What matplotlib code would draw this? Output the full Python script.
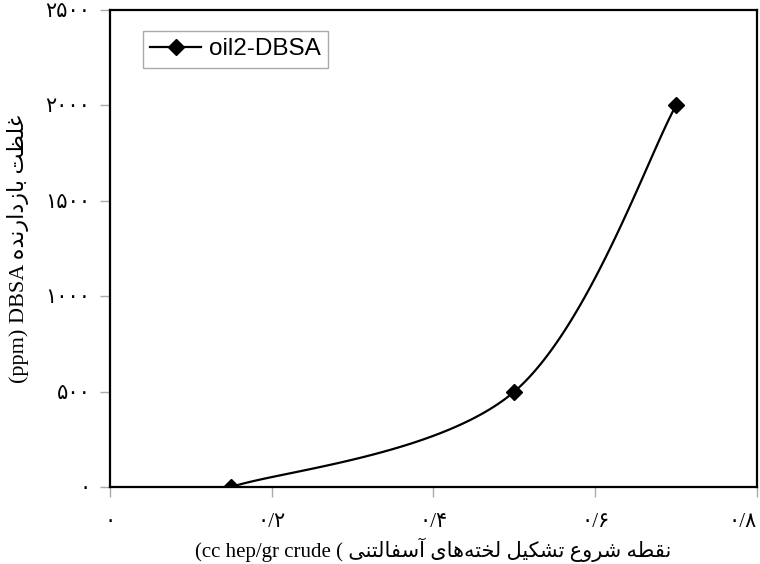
# -*- coding: utf-8 -*-

import numpy as np
import matplotlib
matplotlib.use('Agg')
import matplotlib.pyplot as plt

# Datos
x_vals = [0.15, 0.5, 0.7]      # nucleacion asfaltenos (cc hep/gr crude)
y_vals = [0, 500, 2000]        # concentracion DBSA (ppm)
series_name = 'oil2-DBSA'

x_ticks = [0, 0.2, 0.4, 0.6, 0.8]
y_ticks = [0, 500, 1000, 1500, 2000, 2500]

x_title = 'نقطه شروع تشکیل لخته‌های آسفالتنی'
y_title = 'غلظت بازدارنده'

# formas de presentacion: aislada, final, inicial, media
FORMS = {
    'ا': ('\uFE8D', '\uFE8E'), 'آ': ('\uFE81', '\uFE82'),
    'د': ('\uFEA9', '\uFEAA'), 'ر': ('\uFEAD', '\uFEAE'),
    'ز': ('\uFEAF', '\uFEB0'), 'و': ('\uFEED', '\uFEEE'),
    'ب': ('\uFE8F', '\uFE90', '\uFE91', '\uFE92'),
    'ت': ('\uFE95', '\uFE96', '\uFE97', '\uFE98'),
    'خ': ('\uFEA5', '\uFEA6', '\uFEA7', '\uFEA8'),
    'س': ('\uFEB1', '\uFEB2', '\uFEB3', '\uFEB4'),
    'ش': ('\uFEB5', '\uFEB6', '\uFEB7', '\uFEB8'),
    'ط': ('\uFEC1', '\uFEC2', '\uFEC3', '\uFEC4'),
    'ظ': ('\uFEC5', '\uFEC6', '\uFEC7', '\uFEC8'),
    'ع': ('\uFEC9', '\uFECA', '\uFECB', '\uFECC'),
    'غ': ('\uFECD', '\uFECE', '\uFECF', '\uFED0'),
    'ف': ('\uFED1', '\uFED2', '\uFED3', '\uFED4'),
    'ق': ('\uFED5', '\uFED6', '\uFED7', '\uFED8'),
    'ل': ('\uFEDD', '\uFEDE', '\uFEDF', '\uFEE0'),
    'ن': ('\uFEE5', '\uFEE6', '\uFEE7', '\uFEE8'),
    'ه': ('\uFEE9', '\uFEEA', '\uFEEB', '\uFEEC'),
    'ک': ('\uFB8E', '\uFB8F', '\uFB90', '\uFB91'),
    'ی': ('\uFBFC', '\uFBFD', '\uFBFE', '\uFBFF'),
}


def shape_rtl(text):
    out = []
    for i, c in enumerate(text):
        if c not in FORMS:
            if c != '\u200c':
                out.append(c)
            continue
        prev = text[i - 1] if i > 0 else ''
        nxt = text[i + 1] if i + 1 < len(text) else ''
        j_prev = prev in FORMS and len(FORMS[prev]) == 4
        j_next = len(FORMS[c]) == 4 and nxt in FORMS
        if j_prev and j_next:
            out.append(FORMS[c][3])
        elif j_prev:
            out.append(FORMS[c][1])
        elif j_next:
            out.append(FORMS[c][2])
        else:
            out.append(FORMS[c][0])
    return ''.join(reversed(out))


def fa_num(v):
    s = ('%g' % v).replace('.', '/')
    return ''.join('۰۱۲۳۴۵۶۷۸۹'[int(ch)] if ch.isdigit() else ch for ch in s)


FONT = ['Liberation Serif', 'DejaVu Sans']

fig = plt.figure(figsize=(7.6, 5.64), dpi=100)
ax = fig.add_axes([0.1447, 0.1365, 0.8513, 0.8458])
ax.set_xlim(0, 0.8)
ax.set_ylim(0, 2500)

# curva suavizada tipo Excel (bezier en pixeles)
pts = ax.transData.transform(np.column_stack([x_vals, y_vals]))
curve = []
n = len(pts)
for i in range(n - 1):
    p0, p1 = pts[i], pts[i + 1]
    pm = pts[i - 1] if i > 0 else p0
    pn = pts[i + 2] if i + 2 < n else p1
    c1 = p0 + (p1 - pm) / 6
    c2 = p1 - (pn - p0) / 6
    t = np.linspace(0, 1, 60)[:, None]
    curve.append((1 - t) ** 3 * p0 + 3 * (1 - t) ** 2 * t * c1 + 3 * (1 - t) * t ** 2 * c2 + t ** 3 * p1)
curve = ax.transData.inverted().transform(np.vstack(curve))

ax.plot(curve[:, 0], curve[:, 1], color='black', lw=1.6)
ax.plot(x_vals, y_vals, 'D', color='black', ms=8, ls='none')
ax.plot([], [], '-D', color='black', lw=1.6, ms=8, label=series_name)

ax.set_xticks(x_ticks)
ax.set_yticks(y_ticks)
ax.set_xticklabels([fa_num(v) for v in x_ticks], family=FONT, fontsize=15)
ax.set_yticklabels([fa_num(v) for v in y_ticks], family=FONT, fontsize=15)
ax.get_xticklabels()[-1].set_horizontalalignment('right')
ax.tick_params(axis='both', direction='out', length=7, color='#aaaaaa', width=1)
ax.tick_params(axis='x', pad=12)
ax.tick_params(axis='y', pad=7)
for sp in ax.spines.values():
    sp.set_linewidth(1.6)
    sp.set_color('black')

ax.set_xlabel('(cc hep/gr crude ( ' + shape_rtl(x_title), family=FONT, fontsize=15, labelpad=4)
ax.set_ylabel('(ppm) DBSA ' + shape_rtl(y_title), family=FONT, fontsize=16, labelpad=12)

leg = ax.legend(loc='upper left', bbox_to_anchor=(0.051, 0.956),
                prop={'family': 'Liberation Sans', 'size': 17.5},
                fancybox=False, edgecolor='#aaaaaa', framealpha=1,
                handlelength=2.1, handletextpad=0.3, borderpad=0.3, borderaxespad=0)
leg.get_frame().set_linewidth(1)

plt.savefig('out.png', dpi=100)
